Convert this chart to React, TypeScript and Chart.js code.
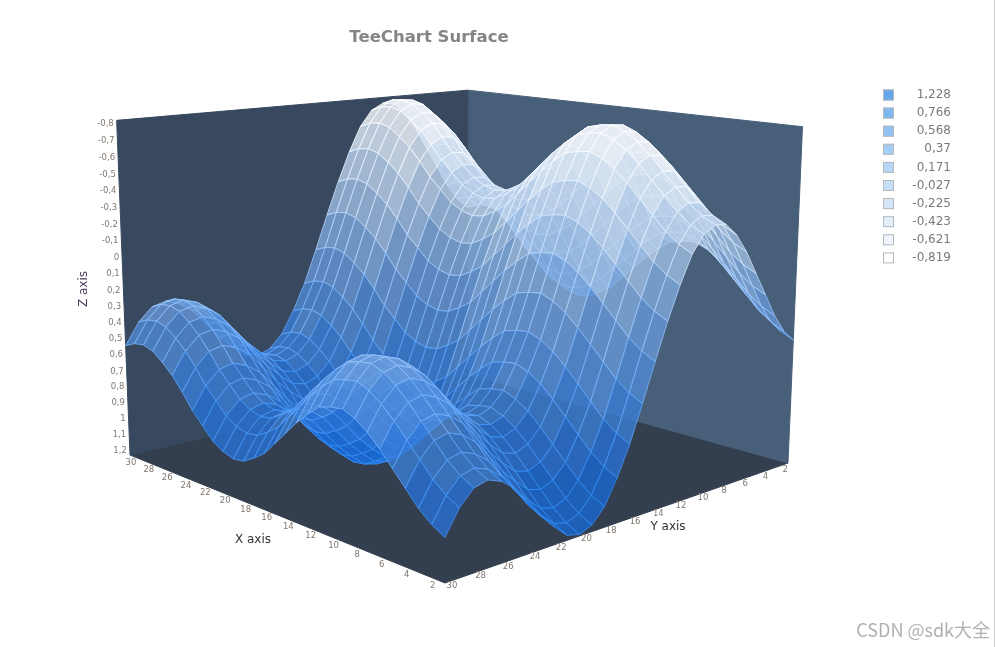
import { useEffect, useRef } from "react"
import { Chart, registerables, type Plugin } from "chart.js"

Chart.register(...registerables)

// grid positions
const xValues = [1, 2, 3, 4, 5, 6, 7, 8, 9, 10, 11, 12, 13, 14, 15, 16, 17, 18, 19, 20, 21, 22, 23, 24, 25, 26, 27, 28, 29, 30]
const yValues = [1, 2, 3, 4, 5, 6, 7, 8, 9, 10, 11, 12, 13, 14, 15, 16, 17, 18, 19, 20, 21, 22, 23, 24, 25, 26, 27, 28, 29, 30]

// surface height = xWave[x] + yWave[y] (profiles read along the two front edges)
const xWave = [0.49, 0.45, 0.39, 0.31, 0.23, 0.15, 0.08, 0.03, 0.0, 0.01, 0.03, 0.09, 0.16, 0.24, 0.32, 0.4, 0.45, 0.49, 0.5, 0.48, 0.44, 0.37, 0.3, 0.21, 0.13, 0.07, 0.02, 0.0, 0.01, 0.04]
const yWave = [-0.03, -0.1, -0.21, -0.35, -0.49, -0.63, -0.74, -0.81, -0.82, -0.78, -0.68, -0.52, -0.33, -0.12, 0.1, 0.31, 0.48, 0.62, 0.7, 0.73, 0.71, 0.64, 0.56, 0.46, 0.36, 0.3, 0.27, 0.29, 0.37, 0.5]

// depth axis (drawn upside down: big values at the floor)
const zMin = -0.819
const zMax = 1.228
const zTicks = [-0.8, -0.7, -0.6, -0.5, -0.4, -0.3, -0.2, -0.1, 0, 0.1, 0.2, 0.3, 0.4, 0.5, 0.6, 0.7, 0.8, 0.9, 1, 1.1, 1.2]
const xTicks = [2, 4, 6, 8, 10, 12, 14, 16, 18, 20, 22, 24, 26, 28, 30]
const yTicks = [2, 4, 6, 8, 10, 12, 14, 16, 18, 20, 22, 24, 26, 28, 30]

const legendValues = [1.228, 0.766, 0.568, 0.37, 0.171, -0.027, -0.225, -0.423, -0.621, -0.819]
const legendColors = [
  "rgb(99,168,238)",
  "rgb(125,183,242)",
  "rgb(145,195,244)",
  "rgb(165,206,246)",
  "rgb(182,215,247)",
  "rgb(198,223,249)",
  "rgb(212,231,250)",
  "rgb(226,239,252)",
  "rgb(238,245,253)",
  "rgb(255,255,255)",
]

// surface bands, lowest value (top, pale) to highest value (floor, deep blue)
const bandFill = [
  "rgba(232,238,246,0.86)",
  "rgba(212,226,242,0.84)",
  "rgba(188,210,236,0.8)",
  "rgba(160,192,230,0.78)",
  "rgba(130,172,224,0.76)",
  "rgba(104,155,220,0.75)",
  "rgba(80,140,218,0.75)",
  "rgba(58,126,216,0.78)",
  "rgba(40,114,214,0.8)",
  "rgba(26,104,208,0.82)",
]
const bandLine = [
  "rgba(255,255,255,0.85)",
  "rgba(245,250,255,0.85)",
  "rgba(228,240,254,0.8)",
  "rgba(205,226,252,0.8)",
  "rgba(178,210,252,0.8)",
  "rgba(150,195,252,0.8)",
  "rgba(120,180,252,0.8)",
  "rgba(92,164,250,0.8)",
  "rgba(68,150,248,0.8)",
  "rgba(50,140,245,0.8)",
]

const W = 996
const H = 647

type Pt = { x: number; y: number }

// screen corners of the box floor: (xLo,yHi) (xHi,yHi) (xHi,yLo) (xLo,yLo)
const floorQuad: Pt[] = [
  { x: 445, y: 583 },
  { x: 130, y: 455 },
  { x: 467, y: 374 },
  { x: 788, y: 463 },
]
// screen corners of the box top above (xHi,yHi) (xHi,yLo) (xLo,yLo)
const topCorners: Pt[] = [
  { x: 117, y: 122 },
  { x: 467, y: 91 },
  { x: 803, y: 124 },
]

function squareToQuad(q: Pt[]) {
  const [p0, p1, p2, p3] = q
  const dx1 = p1.x - p2.x, dx2 = p3.x - p2.x, dx3 = p0.x - p1.x + p2.x - p3.x
  const dy1 = p1.y - p2.y, dy2 = p3.y - p2.y, dy3 = p0.y - p1.y + p2.y - p3.y
  const den = dx1 * dy2 - dx2 * dy1
  const g = (dx3 * dy2 - dx2 * dy3) / den
  const h = (dx1 * dy3 - dx3 * dy1) / den
  return {
    a: p1.x - p0.x + g * p1.x, b: p3.x - p0.x + h * p3.x, c: p0.x,
    d: p1.y - p0.y + g * p1.y, e: p3.y - p0.y + h * p3.y, f: p0.y,
    g, h,
  }
}

const hom = squareToQuad(floorQuad)
const xLo = xValues[0]
const xHi = xValues[xValues.length - 1]
const yLo = yValues[0]
const yHi = yValues[yValues.length - 1]

function floorH(X: number, Y: number) {
  const u = (X - xLo) / (xHi - xLo)
  const v = (yHi - Y) / (yHi - yLo)
  return [hom.a * u + hom.b * v + hom.c, hom.d * u + hom.e * v + hom.f, hom.g * u + hom.h * v + 1]
}

// vertical direction in homogeneous screen coords, fitted to the top corners
function fitVertical() {
  const bases = [floorH(xHi, yHi), floorH(xHi, yLo), floorH(xLo, yLo)]
  const rows: number[][] = []
  const rhs: number[] = []
  bases.forEach((hv, i) => {
    const t = topCorners[i]
    rows.push([1, 0, -t.x]); rhs.push(t.x * hv[2] - hv[0])
    rows.push([0, 1, -t.y]); rhs.push(t.y * hv[2] - hv[1])
  })
  const M = [[0, 0, 0], [0, 0, 0], [0, 0, 0]]
  const r = [0, 0, 0]
  rows.forEach((row, k) => {
    for (let i = 0; i < 3; i++) {
      r[i] += row[i] * rhs[k]
      for (let j = 0; j < 3; j++) M[i][j] += row[i] * row[j]
    }
  })
  const det3 = (m: number[][]) =>
    m[0][0] * (m[1][1] * m[2][2] - m[1][2] * m[2][1]) -
    m[0][1] * (m[1][0] * m[2][2] - m[1][2] * m[2][0]) +
    m[0][2] * (m[1][0] * m[2][1] - m[1][1] * m[2][0])
  const D = det3(M)
  return [0, 1, 2].map((col) => det3(M.map((row, i) => row.map((val, j) => (j === col ? r[i] : val)))) / D)
}
const up = fitVertical()

function project(X: number, Y: number, Z: number): Pt {
  const hv = floorH(X, Y)
  const w = (zMax - Z) / (zMax - zMin)
  const q = hv[2] + w * up[2]
  return { x: (hv[0] + w * up[0]) / q, y: (hv[1] + w * up[1]) / q }
}

function polygon(points: Pt[], fill: string, line: string, order: number) {
  return {
    data: [...points, points[0]],
    fill: "shape",
    backgroundColor: fill,
    borderColor: line,
    borderWidth: 1,
    pointRadius: 0,
    pointHoverRadius: 0,
    tension: 0,
    order,
  }
}

function buildDatasets() {
  const sets: any[] = []
  const back = 1e7
  sets.push(polygon([project(xHi, yHi, zMax), project(xHi, yHi, zMin), project(xHi, yLo, zMin), project(xHi, yLo, zMax)], "#38495f", "#38495f", back))
  sets.push(polygon([project(xHi, yLo, zMax), project(xHi, yLo, zMin), project(xLo, yLo, zMin), project(xLo, yLo, zMax)], "#485f79", "#485f79", back + 1))
  sets.push(polygon([project(xLo, yHi, zMax), project(xHi, yHi, zMax), project(xHi, yLo, zMax), project(xLo, yLo, zMax)], "#333f4f", "#333f4f", back + 2))

  const asc = [...legendValues].reverse()
  const step = asc[1] - asc[0]
  for (let i = 0; i < xValues.length - 1; i++) {
    for (let j = 0; j < yValues.length - 1; j++) {
      const corners = [[i, j], [i + 1, j], [i + 1, j + 1], [i, j + 1]]
      const zs = corners.map(([a, b]) => xWave[a] + yWave[b])
      const pts = corners.map(([a, b], k) => project(xValues[a], yValues[b], zs[k]))
      const avg = (zs[0] + zs[1] + zs[2] + zs[3]) / 4
      const band = Math.max(0, Math.min(9, Math.floor((avg - zMin) / step)))
      const depth = floorH((xValues[i] + xValues[i + 1]) / 2, (yValues[j] + yValues[j + 1]) / 2)[2]
      sets.push(polygon(pts, bandFill[band], bandLine[band], depth * 1000))
    }
  }
  return sets
}

const comma = (v: number) => String(v).replace(".", ",")

const textPlugin: Plugin<"line"> = {
  id: "surfaceText",
  afterDraw(chart) {
    const ctx = chart.ctx
    const sx = chart.scales.x
    const sy = chart.scales.y
    const px = (p: Pt) => ({ x: sx.getPixelForValue(p.x), y: sy.getPixelForValue(p.y) })
    ctx.save()
    ctx.textBaseline = "middle"

    ctx.font = "bold 16.5px 'DejaVu Sans'"
    ctx.fillStyle = "#858585"
    ctx.textAlign = "center"
    ctx.fillText("TeeChart Surface", 429, 38)

    // depth ticks on the left edge
    ctx.font = "8.5px 'DejaVu Sans'"
    ctx.fillStyle = "#80776f"
    ctx.textAlign = "right"
    zTicks.forEach((z) => {
      const p = px(project(xHi, yHi, z))
      ctx.fillText(comma(z), p.x - 3, p.y)
    })
    ctx.textAlign = "center"
    xTicks.forEach((x) => {
      const p = px(project(x, yHi, zMax))
      ctx.fillText(String(x), p.x + 1, p.y + 8)
    })
    yTicks.forEach((y) => {
      const p = px(project(xLo, y, zMax))
      ctx.fillText(String(y), p.x + 7, p.y + 3)
    })

    ctx.font = "12px 'DejaVu Sans'"
    ctx.fillStyle = "#333333"
    ctx.fillText("X axis", 253, 540)
    ctx.fillText("Y axis", 668, 527)
    ctx.save()
    ctx.translate(84, 289)
    ctx.rotate(-Math.PI / 2)
    ctx.fillStyle = "#4e3a5c"
    ctx.fillText("Z axis", 0, 0)
    ctx.restore()

    // legend
    ctx.font = "12px 'DejaVu Sans'"
    ctx.textAlign = "right"
    legendValues.forEach((v, i) => {
      const cy = 95 + i * 18.1
      ctx.fillStyle = legendColors[i]
      ctx.fillRect(883, cy - 5.5, 11, 11)
      ctx.strokeStyle = "#b8b8b8"
      ctx.lineWidth = 1
      ctx.strokeRect(883.5, cy - 5, 10, 10)
      ctx.fillStyle = "#7a7a7a"
      ctx.fillText(comma(v), 951, cy)
    })

    ctx.font = "18px 'Noto Sans CJK SC'"
    ctx.fillStyle = "#b0b0b0"
    ctx.fillText("CSDN @sdk大全", 990, 630)

    ctx.strokeStyle = "#cfcfcf"
    ctx.beginPath()
    ctx.moveTo(994.5, 0)
    ctx.lineTo(994.5, H)
    ctx.stroke()
    ctx.restore()
  },
}

export default function App() {
  const canvasRef = useRef<HTMLCanvasElement>(null)
  const chartRef = useRef<Chart | null>(null)

  useEffect(() => {
    if (!canvasRef.current) return
    const ctx = canvasRef.current.getContext("2d")
    if (!ctx) return

    chartRef.current = new Chart(ctx, {
      type: "line",
      data: { datasets: buildDatasets() },
      options: {
        animation: false,
        responsive: true,
        maintainAspectRatio: false,
        events: [],
        layout: { padding: 0, autoPadding: false },
        scales: {
          x: { type: "linear", min: 0, max: W, display: false },
          y: { type: "linear", min: 0, max: H, reverse: true, display: false },
        },
        plugins: {
          legend: { display: false },
          tooltip: { enabled: false },
          title: { display: false },
        },
      },
      plugins: [textPlugin],
    } as any)

    return () => {
      if (chartRef.current) chartRef.current.destroy()
    }
  }, [])

  return (
    <div style={{ position: "fixed", left: 0, top: 0, width: W, height: H, background: "#fff" }}>
      <canvas ref={canvasRef} />
    </div>
  )
}
